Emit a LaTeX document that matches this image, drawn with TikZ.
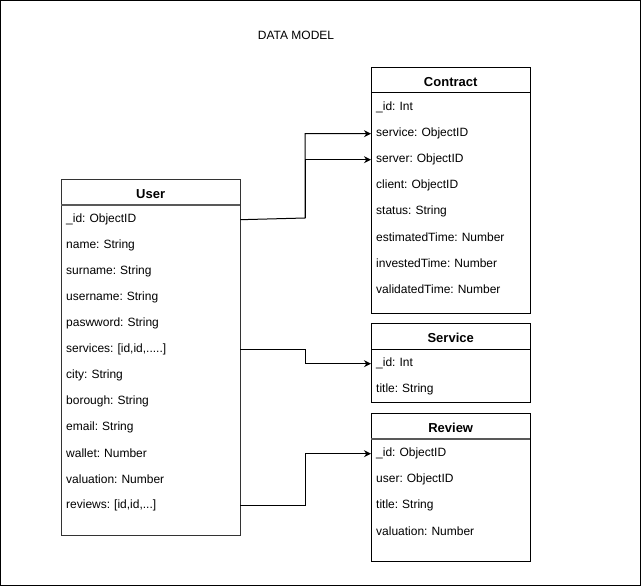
\documentclass[tikz,border=0pt]{standalone}
\usepackage{fontspec}
\setmainfont{Liberation Sans}
\usetikzlibrary{arrows.meta}
\frenchspacing
\begin{document}
\begin{tikzpicture}[x=1pt,y=-1pt,
  box/.style={draw=black,line width=1pt,fill=white,anchor=north west,inner sep=0pt},
  head/.style={anchor=north west,inner sep=0pt,minimum height=26pt,yshift=-1.5pt,font=\fontsize{13}{15}\selectfont\bfseries},
  row/.style={anchor=north west,inner xsep=5pt,inner ysep=0pt,minimum height=26pt,yshift=-1.5pt,align=left,font=\fontsize{12}{14}\selectfont\frenchspacing},
  urow/.style={row,text width=169pt},
  sep/.style={line width=1pt,black},
  gsep/.style={line width=1.3pt,black!65},
  link/.style={line width=1pt,-{Stealth[length=7pt,width=7pt]}}
]
\useasboundingbox (0,0) rectangle (641,586);
\draw[line width=1pt] (0.5,0.5) rectangle (640.5,585.5);
\node[font=\fontsize{12}{14}\selectfont] (title) at (296,35) {DATA MODEL};

% User
\node[box,minimum width=179pt,minimum height=356pt,draw=black!80,line width=1.3pt] (user) at (61,179) {};
\node[head,minimum width=179pt] (uh) at (61,179) {User};
\draw[gsep] (61,205) -- (240,205);
\node[urow] (u1) at (61,205) {\_id: ObjectID};
\node[urow] (u2) at (61,231) {name: String};
\node[urow] (u3) at (61,257) {surname: String};
\node[urow] (u4) at (61,283) {username: String};
\node[urow] (u5) at (61,309) {paswword: String};
\node[urow] (u6) at (61,335) {services: [id,id,.....]};
\node[urow] (u7) at (61,361) {city: String};
\node[urow] (u8) at (61,387) {borough: String};
\node[urow] (u9) at (61,413) {email: String};
\node[urow] (u10) at (61,439) {wallet: Number};
\node[urow] (u11) at (61,465) {valuation: Number};
\node[urow] (u12) at (61,491) {reviews: [id,id,...]};

% Contract
\node[box,minimum width=159pt,minimum height=246pt] (contract) at (371,67) {};
\node[head,minimum width=159pt] (ch) at (371,67) {Contract};
\draw[sep] (371,93) -- (530,93);
\foreach \t [count=\i] in {\_id: Int,service: ObjectID,server: ObjectID,client: ObjectID,status: String,estimatedTime: Number,investedTime: Number,validatedTime: Number}{
  \node[row,text width=149pt] (c\i) at (371,{93+26*(\i-1)}) {\t};
}

% Service
\node[box,minimum width=159pt,minimum height=79pt] (service) at (371,323) {};
\node[head,minimum width=159pt] (sh) at (371,323) {Service};
\draw[sep] (371,349) -- (530,349);
\foreach \t [count=\i] in {\_id: Int,title: String}{
  \node[row,text width=149pt] (s\i) at (371,{349+26*(\i-1)}) {\t};
}

% Review
\node[box,minimum width=159pt,minimum height=148pt] (review) at (371,413) {};
\node[head,minimum width=159pt] (rh) at (371,413) {Review};
\draw[gsep] (371,439) -- (530,439);
\foreach \t [count=\i] in {\_id: ObjectID,user: ObjectID,title: String,valuation: Number}{
  \node[row,text width=149pt] (r\i) at (371,{439+26*(\i-1)}) {\t};
}

% connectors
\coordinate (j1) at (305,218);
\draw[link] (u1.east) -- (j1) |- (c2.west);
\draw[link] (j1) |- (c3.west);
\draw[link] (u6.east) -- ++(65,0) |- (s1.west);
\draw[link] (u12.east) -- ++(65,0) |- (r1.west);
\end{tikzpicture}
\end{document}
